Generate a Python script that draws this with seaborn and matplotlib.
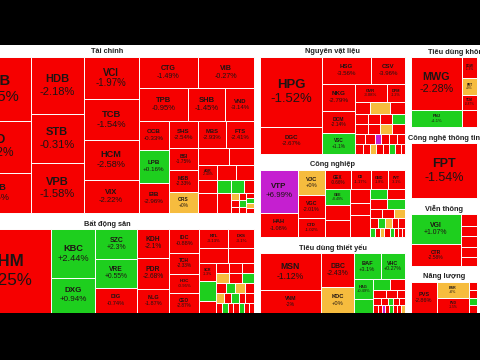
import matplotlib
matplotlib.use("Agg")
import matplotlib.pyplot as plt
from matplotlib.patches import Rectangle
import seaborn as sns


def H(*kids):
    return ("h", list(kids))


def V(*kids):
    return ("v", list(kids))


# leaves: (ticker, % change, market-cap weight)
TAI_CHINH = H(
    V(("VCB", -0.85, 4544), ("BID", -1.22, 3692), ("MBB", -1.35, 2840)),
    V(("HDB", -2.18, 3021), ("STB", -0.31, 2597), ("VPB", -1.58, 2650)),
    V(("VCI", -1.97, 2310), ("TCB", -1.54, 2255), ("HCM", -2.58, 2200), ("VIX", -2.22, 1815)),
    V(H(("CTG", -1.49, 1860), ("VIB", -0.27, 1736)),
      H(("TPB", -0.95, 1650), ("SHB", -1.45, 1221), ("VND", -3.14, 957)),
      H(V(("OCB", -0.33, 870), ("LPB", 0.16, 990), ("EIB", -2.96, 900)),
        V(("SHS", -2.54, 810), ("BSI", -1.75, 660), ("MSB", -2.33, 660), ("ORS", 0.0, 630)),
        V(H(("MBS", -2.93, 756), ("FTS", -2.41, 756)),
          H(("", -1.1, 527), ("", -1.3, 425)),
          H(("AGR", -2.49, 285), ("", -1.2, 285), ("", -0.9, 270)),
          H(("", -1.0, 247), ("", 0.6, 182), ("", 0.8, 169), ("", -1.4, 130)),
          H(("", -1.6, 380), ("", -0.7, 280),
            H(V(("", 0.0, 55), ("", -1.0, 55), ("", -2.0, 50)),
              V(("", -1.5, 50), ("", 0.5, 50), ("", -1.0, 40)),
              V(("", -0.8, 45), ("", 1.2, 40), ("", 0.0, 40), ("", -1.1, 35)))))))
)

BAT_DONG_SAN = H(
    ("VHM", -3.25, 7644),
    V(("KBC", 2.44, 2156), ("DXG", 0.94, 1540)),
    V(("SZC", 2.3, 1260), ("VRE", 0.55, 1218), ("DIG", -0.74, 1050)),
    V(("KDH", -2.1, 928), ("PDR", -2.68, 992), ("NLG", -1.87, 768)),
    V(("IDC", -0.88, 720), ("TCH", -2.33, 630), ("HDC", -0.95, 570), ("CEO", -2.87, 600)),
    V(H(("NTL", -3.13, 551), ("DXS", -3.1, 494)),
      H(("", -1.4, 435), ("", -2.0, 390)),
      H(V(("SCR", -1.3, 306), ("", 0.8, 340), ("", -1.2, 204)),
        V(H(("", -1.0, 130), ("", -1.5, 130), ("", -0.8, 120)),
          H(("", 0.0, 130), ("", -1.1, 130), ("", 1.0, 120)),
          H(("", -1.3, 100), ("", 1.4, 90), ("", 0.0, 100), ("", -0.6, 90)),
          H(("", 0.0, 80), ("", -1.2, 70), ("", 0.9, 80), ("", -2.1, 60), ("", -1.0, 90)),
          H(("", -1.0, 60), ("", 0.5, 60), ("", -1.7, 50), ("", -0.4, 60), ("", 1.1, 50),
            ("", -1.3, 50), ("", -0.9, 50)))))
)

NGUYEN_VAT_LIEU = H(
    V(("HPG", -1.52, 4402), ("DGC", -2.67, 1674)),
    V(H(("HSG", -3.56, 1296), ("CSV", -3.96, 918)),
      H(V(("NKG", -2.79, 896), ("DCM", -2.14, 704), ("VSC", 1.10, 672)),
        V(H(("GVR", -3.08, 608), ("DPM", -1.2, 342)),
          H(("", -1.0, 180), ("", 0.0, 240), ("", -1.5, 180)),
          H(("", -1.2, 130), ("", -0.8, 120), ("", -2.0, 120), ("", 1.0, 130)),
          H(("", -1.1, 130), ("", -1.6, 120), ("", 0.0, 120), ("", -0.9, 130)),
          H(("", -1.3, 100), ("", -0.7, 100), ("", 6.95, 60), ("", -1.0, 80), ("", -2.2, 80),
            ("", -1.4, 80)),
          H(("", -0.6, 80), ("", -1.8, 70), ("", 0.0, 60), ("", -1.1, 70), ("", -1.5, 60),
            ("", 0.7, 60), ("", -0.9, 60), ("", -1.2, 40)))))
)

CONG_NGHIEP = H(
    V(("VTP", 6.99, 1634), ("HAH", -1.08, 912)),
    V(("VJC", 0.0, 700), ("VGC", -2.01, 644), ("CTD", -1.02, 532)),
    V(H(("GEX", -0.66, 500), ("CII", -1.17, 400), ("GMD", -1.8, 340), ("PVT", -3.1, 340)),
      H(V(("GEE", 0.49, 375), ("", -1.3, 375), ("", -1.0, 425)),
        V(("", -0.9, 260), ("", -1.5, 240), ("", -1.2, 440)),
        V(H(("", 1.2, 170), ("", -1.0, 170)),
          H(("", -1.4, 170), ("", 0.9, 170)),
          H(("", -1.1, 120), ("", -2.0, 110), ("", 0.0, 110)),
          H(("", -0.8, 80), ("", 1.0, 70), ("", 0.0, 60), ("", -1.3, 60), ("", -1.0, 70)),
          H(("", 1.1, 50), ("", -0.9, 50), ("", 0.0, 40), ("", -1.2, 50), ("", 0.6, 40),
            ("", -1.6, 40), ("", -0.7, 40), ("", -1.0, 28)))))
)

TIEU_DUNG_THIET_YEU = H(
    V(("MSN", -1.12, 2294), ("VNM", -2.0, 1364)),
    V(("DBC", -2.43, 1122), ("KDC", 0.0, 825)),
    V(H(("BAF", 3.1, 702), ("VHC", 0.27, 648)),
      H(V(("HAG", 0.49, 380), ("", 1.0, 260)),
        V(H(("", 1.3, 192), ("", -1.1, 168)),
          H(("", -1.0, 100), ("", -1.6, 80), ("", -0.8, 60)),
          H(("", -1.2, 60), ("", -0.9, 50), ("", 0.8, 40), ("", -1.5, 40), ("", -1.0, 50)),
          H(("", -0.7, 40), ("", -1.3, 30), ("", 6.95, 20), ("", -1.1, 30), ("", 1.0, 30),
            ("", -1.4, 30), ("", -0.6, 30), ("", 0.0, 30)))))
)

TIEU_DUNG_KHONG_TY = H(
    V(("MWG", -2.28, 2703), ("PNJ", 1.1, 918)),
    V(("DGW", -1.3, 315), ("FRT", 0.0, 255), ("TCM", -0.87, 225), ("", -1.0, 270))
)

CONG_NGHE = H(("FPT", -1.54, 3630))

VIEN_THONG = H(
    V(("VGI", 1.07, 1500), ("CTR", -2.58, 1100)),
    V(("", -1.2, 192), ("", -0.8, 160), ("", -1.5, 176), ("", -1.0, 160), ("", -2.0, 144))
)

NANG_LUONG = H(
    ("PVS", -2.86, 806),
    V(("BSR", 0.0, 512), ("PVD", -1.5, 480)),
    V(("", -1.0, 64), ("", -1.3, 64), ("", 0.8, 56), ("", -0.7, 64))
)

COLUMNS = [
    [("Tài chính", TAI_CHINH), ("Bất động sản", BAT_DONG_SAN)],
    [("Nguyên vật liệu", NGUYEN_VAT_LIEU), ("Công nghiệp", CONG_NGHIEP),
     ("Tiêu dùng thiết yếu", TIEU_DUNG_THIET_YEU)],
    [("Tiêu dùng không thiết yếu", TIEU_DUNG_KHONG_TY), ("Công nghệ thông tin", CONG_NGHE),
     ("Viễn thông", VIEN_THONG), ("Năng lượng", NANG_LUONG)],
]

# ---------------- style / layout ----------------
RED, GREEN, YELLOW, PURPLE, CYAN = "#F60000", "#1ECF1E", "#F6BC3E", "#C51FD0", "#1EC8E8"
TEXT = "#1E1414"
X0, X1, Y0, Y1 = -40, 477, 41, 312.5
HEAD, GAP = 16, 5.5
TITLE_LEFT_PAD = {"Tiêu dùng không thiết yếu": 17}


def is_group(n):
    return isinstance(n[1], list)


def total(n):
    return sum(total(c) for c in n[1]) if is_group(n) else n[2]


def layout(n, x, y, w, h, out):
    if not is_group(n):
        out.append((n, x, y, w, h))
        return
    t = total(n)
    pos = 0.0
    for c in n[1]:
        f = total(c) / t
        if n[0] == "h":
            layout(c, x + pos * w, y, w * f, h, out)
        else:
            layout(c, x, y + pos * h, w, h * f, out)
        pos += f


def colour(p):
    if p >= 6.9:
        return PURPLE
    if p <= -6.9:
        return CYAN
    if p > 0:
        return GREEN
    if p < 0:
        return RED
    return YELLOW


def fmt(p):
    s = f"{p:+.2f}".rstrip("0").rstrip(".")
    return s + "%"


sns.set_theme(style="white")
plt.rcParams["font.family"] = ["Liberation Sans", "DejaVu Sans"]

fig = plt.figure(figsize=(4.8, 3.6), dpi=100, facecolor="black")
ax = fig.add_axes([0, 47 / 360, 1, 268 / 360])
ax.set_xlim(0, 480)
ax.set_ylim(313, 45)
ax.set_facecolor("white")
ax.set_xticks([])
ax.set_yticks([])
for s in ax.spines.values():
    s.set_visible(False)

col_sums = [sum(total(t) for _, t in col) for col in COLUMNS]
avail = [(Y1 - Y0) - len(col) * HEAD for col in COLUMNS]
raw = [cs / a for cs, a in zip(col_sums, avail)]
scale = (X1 - X0 - GAP * (len(COLUMNS) - 1)) / sum(raw)
widths = [r * scale for r in raw]

cx = X0
for col, cs, av, cw in zip(COLUMNS, col_sums, avail, widths):
    cy = Y0
    for title, tree in col:
        sh = av * total(tree) / cs
        ty = cy + HEAD
        # title
        clip = Rectangle((cx, cy), cw, HEAD + sh, transform=ax.transData)
        if title in TITLE_LEFT_PAD:
            tt = ax.text(cx + TITLE_LEFT_PAD[title], ty - 5.2, title, ha="left", va="center",
                         fontsize=5.3, fontweight="bold", color="#222222")
        else:
            tt = ax.text(cx + cw / 2, ty - 5.2, title, ha="center", va="center",
                         fontsize=5.3, fontweight="bold", color="#222222")
        tt.set_clip_path(clip)
        tiles = []
        layout(tree, cx, ty, cw, sh, tiles)
        for (name, pct, _), x, y, w, h in tiles:
            ax.add_patch(Rectangle((x, y), w, h, facecolor=colour(pct), edgecolor="white",
                                   linewidth=0.7))
            if name:
                fs = min(0.23 * h, 0.21 * w, 17.0)
                if fs >= 3.0:
                    pt = fs * 0.72
                    mx, my = x + w / 2, y + h / 2
                    ax.text(mx, my - 0.55 * fs, name, ha="center", va="center", fontsize=pt,
                            fontweight="bold", color=TEXT, clip_on=True)
                    ax.text(mx, my + 0.55 * fs, fmt(pct), ha="center", va="center",
                            fontsize=pt, color=TEXT, clip_on=True)
        cy = ty + sh
    cx += cw + GAP

fig.savefig("out.png", dpi=100, facecolor="black")
